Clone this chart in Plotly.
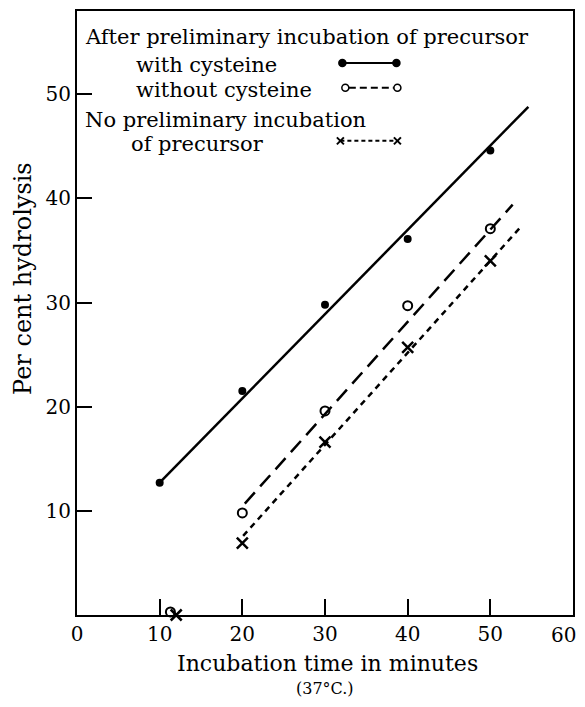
import plotly.graph_objects as go

# ---- data ----
minutes = [10, 20, 30, 40, 50]
with_cysteine = [12.7, 21.5, 29.8, 36.1, 44.6]

without_minutes = [11.3, 20, 30, 40, 50]
without_cysteine = [0.3, 9.8, 19.6, 29.7, 37.1]

noprelim_minutes = [12, 20, 30, 40, 50]
no_preliminary = [0.0, 6.9, 16.6, 25.7, 34.0]

# fitted lines drawn through the points (end points)
fit_with_x = [10, 54.6]
fit_with_y = [12.7, 48.8]
fit_without_x = [20.3, 52.7]
fit_without_y = [10.7, 39.4]
fit_noprelim_x = [20.1, 53.6]
fit_noprelim_y = [7.6, 37.2]

x_ticks = [0, 10, 20, 30, 40, 50, 60]
y_ticks = [10, 20, 30, 40, 50]

FONT = "DejaVu Serif"
BLACK = "black"

fig = go.Figure()

# fitted lines
fig.add_trace(go.Scatter(x=fit_with_x, y=fit_with_y, mode="lines",
                         line=dict(color=BLACK, width=2.5), showlegend=False))
fig.add_trace(go.Scatter(x=fit_without_x, y=fit_without_y, mode="lines",
                         line=dict(color=BLACK, width=2.5, dash="15px,8px"), showlegend=False))
fig.add_trace(go.Scatter(x=fit_noprelim_x, y=fit_noprelim_y, mode="lines",
                         line=dict(color=BLACK, width=2.5, dash="6px,5px"), showlegend=False))

# points
fig.add_trace(go.Scatter(x=minutes, y=with_cysteine, mode="markers", cliponaxis=False,
                         marker=dict(symbol="circle", size=8, color=BLACK), showlegend=False))
fig.add_trace(go.Scatter(x=without_minutes, y=without_cysteine, mode="markers", cliponaxis=False,
                         marker=dict(symbol="circle-open", size=9, color=BLACK,
                                     line=dict(width=2, color=BLACK)), showlegend=False))
fig.add_trace(go.Scatter(x=noprelim_minutes, y=no_preliminary, mode="markers", cliponaxis=False,
                         marker=dict(symbol="x-thin", size=11, color=BLACK,
                                     line=dict(width=2.5, color=BLACK)), showlegend=False))

# ---- legend drawn as text + key samples ----
annotations = []
shapes = []

def txt(text, x, y, size=21, xanchor="left"):
    annotations.append(dict(text=text, x=x, y=y, xref="paper", yref="paper",
                            xanchor=xanchor, yanchor="middle", showarrow=False,
                            font=dict(family=FONT, size=size, color=BLACK)))

txt("After preliminary incubation of precursor", 0.012, 0.957)
txt("with cysteine", 0.115, 0.911)
txt("without cysteine", 0.115, 0.870)
txt("No preliminary incubation", 0.012, 0.820)
txt("of precursor", 0.105, 0.779)

def key_line(x0, x1, y, dash):
    shapes.append(dict(type="line", xref="paper", yref="paper", x0=x0, x1=x1, y0=y, y1=y,
                       line=dict(color=BLACK, width=2, dash=dash)))

def key_dot(x, y, filled):
    shapes.append(dict(type="circle", xref="paper", yref="paper",
                       xsizemode="pixel", ysizemode="pixel", xanchor=x, yanchor=y,
                       x0=-3.5, x1=3.5, y0=-3.5, y1=3.5,
                       fillcolor=BLACK if filled else "white",
                       line=dict(color=BLACK, width=1.5)))

def key_cross(x, y):
    for a, b in ((-3.5, 3.5), (3.5, -3.5)):
        shapes.append(dict(type="line", xref="paper", yref="paper",
                           xsizemode="pixel", ysizemode="pixel", xanchor=x, yanchor=y,
                           x0=-3.5, x1=3.5, y0=a, y1=b,
                           line=dict(color=BLACK, width=2)))

key_line(0.535, 0.644, 0.914, "solid")
key_dot(0.535, 0.914, True)
key_dot(0.644, 0.914, True)

key_line(0.548, 0.639, 0.873, "7px,4px")
key_dot(0.541, 0.873, False)
key_dot(0.646, 0.873, False)

key_line(0.531, 0.646, 0.785, "4px,3px")
key_cross(0.531, 0.785)
key_cross(0.646, 0.785)

# last x tick label, kept just inside the visible page edge
annotations.append(dict(text=str(x_ticks[-1]), x=x_ticks[-1], y=0, xref="x", yref="paper",
                        xanchor="right", yanchor="top", xshift=5, yshift=-6, showarrow=False,
                        font=dict(family=FONT, size=20, color=BLACK)))

# axis titles
annotations.append(dict(text="Incubation time in minutes", x=0.505, y=-0.081,
                        xref="paper", yref="paper", showarrow=False,
                        xanchor="center", yanchor="middle",
                        font=dict(family=FONT, size=22, color=BLACK)))
annotations.append(dict(text="(37°C.)", x=0.5, y=-0.1225,
                        xref="paper", yref="paper", showarrow=False,
                        xanchor="center", yanchor="middle",
                        font=dict(family=FONT, size=16, color=BLACK)))
annotations.append(dict(text="Per cent hydrolysis", x=-0.109, y=0.558,
                        xref="paper", yref="paper", showarrow=False, textangle=-90,
                        xanchor="center", yanchor="middle",
                        font=dict(family=FONT, size=24, color=BLACK)))

# The page keeps its default 8px body margin, so the figure is sized to fit
# the 585x707 window.
fig.update_layout(
    width=577, height=691,
    margin=dict(l=69, r=12, t=1, b=84),
    paper_bgcolor="white", plot_bgcolor="white",
    font=dict(family=FONT, color=BLACK),
    annotations=annotations, shapes=shapes,
    showlegend=False,
)
fig.update_xaxes(range=[0, 60], tickvals=x_ticks,
                 ticktext=[str(v) for v in x_ticks[:-1]] + [""],
                 ticks="inside", ticklen=16, tickwidth=2, tickcolor=BLACK,
                 showline=True, linewidth=2, linecolor=BLACK, mirror=True,
                 showgrid=False, zeroline=False,
                 tickfont=dict(family=FONT, size=20, color=BLACK))
fig.update_yaxes(range=[0, 58], tickvals=y_ticks, ticktext=[str(v) for v in y_ticks],
                 ticks="inside", ticklen=15, tickwidth=2, tickcolor=BLACK,
                 showline=True, linewidth=2, linecolor=BLACK, mirror=True,
                 showgrid=False, zeroline=False,
                 tickfont=dict(family=FONT, size=20, color=BLACK))

fig.write_html("out.html", config={"displayModeBar": False},
               post_script="document.documentElement.style.overflow='hidden';"
                           "document.body.style.overflow='hidden';")
